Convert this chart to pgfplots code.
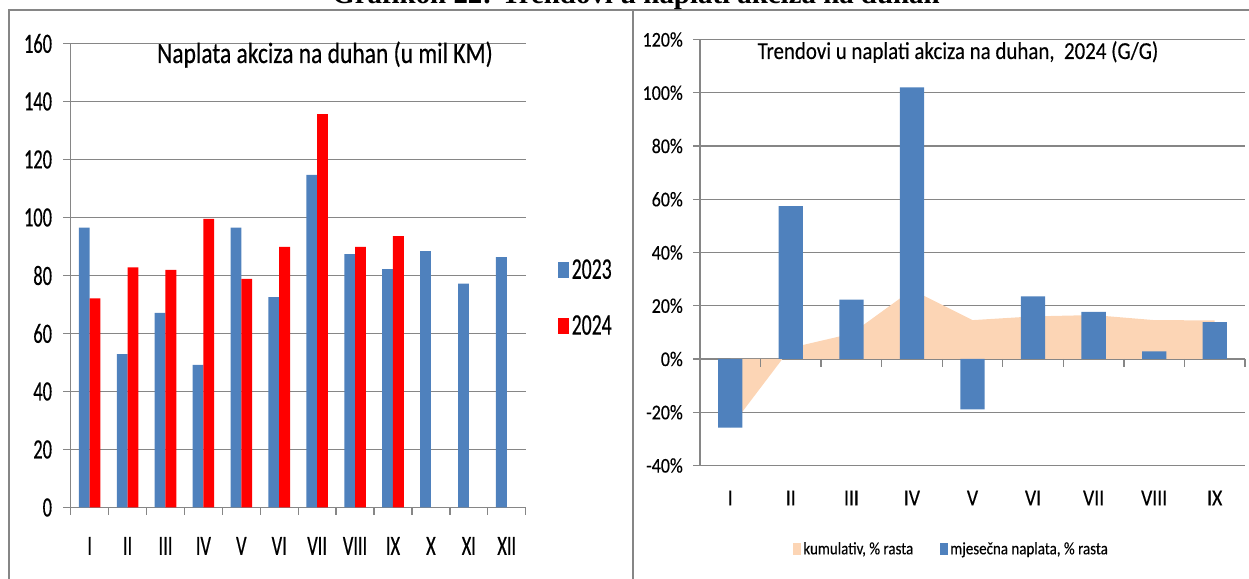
\documentclass[border=0pt]{standalone}
\usepackage{pgfplots}
\pgfplotsset{compat=1.18}
\usepackage{fontspec}
\setmainfont{Carlito}
\newfontfamily\LT[FakeStretch=0.66,FakeBold=0.4]{Carlito}
\newfontfamily\LH[FakeStretch=0.8,FakeBold=0.4]{Carlito}
\newfontfamily\RT[FakeStretch=0.86,FakeBold=0.3]{Carlito}
\newfontfamily\SB{Liberation Serif}
\definecolor{gridgray}{HTML}{868686}
\definecolor{c23}{HTML}{4F81BD}
\definecolor{c24}{HTML}{FF0000}
\definecolor{peach}{HTML}{FCD5B5}
\begin{document}
\begin{tikzpicture}[x=1bp,y=1bp]
% panel frames
\draw[gridgray, line width=2bp] (9,-10) -- (9,569) -- (633,569) -- (633,-10);
\draw[gridgray, line width=2bp] (633,569) -- (1260,569);
\node[anchor=base, font=\SB\bfseries\fontsize{29}{29}\selectfont] at (636,575.5) {Grafikon 22: Trendovi u naplati akciza na duhan};

% ---------- left chart ----------
\begin{axis}[
  at={(70.7bp,71.5bp)}, anchor=south west, scale only axis,
  width=455bp, height=464bp,
  xmin=-0.5, xmax=11.5, ymin=0, ymax=160,
  ybar=0pt, bar width=10.8bp,
  axis x line*=bottom, axis y line*=left,
  axis line style={gridgray, line width=1.3bp, -},
  ytick={0,20,...,160},
  xtick={-0.5,0.5,...,11.5}, xticklabels={},
  extra x ticks={0,...,11},
  extra x tick labels={I,II,III,IV,V,VI,VII,VIII,IX,X,XI,XII},
  extra x tick style={major tick length=0pt},
  tick align=outside, major tick length=7.5bp,
  tick style={gridgray, line width=1.3bp},
  ymajorgrids, major grid style={gridgray, line width=1.3bp},
  /pgf/number format/assume math mode=true,
  yticklabel style={font=\LT\fontsize{28}{28}\selectfont, anchor=east, inner sep=0pt, xshift=-11bp},
  xticklabel style={font=\LT\fontsize{28}{28}\selectfont, anchor=center, inner sep=0pt, yshift=-38.5bp},
  legend style={at={(1.071,0.452)}, anchor=west, draw=none, fill=none,
    font=\LT\fontsize{30}{30}\selectfont, row sep=30bp, inner sep=0pt,
    nodes={inner sep=2.5bp}},
  legend cell align=left,
  clip=false,
]
\addplot[fill=c23, draw=none,
  legend image code/.code={\fill[c23] (0bp,-8bp) rectangle (11bp,8bp);}]
  coordinates {(0,96.5) (1,52.9) (2,67.1) (3,49.2) (4,96.5) (5,72.5) (6,114.7) (7,87.4) (8,82.2) (9,88.4) (10,77.2) (11,86.3)};
\addplot[fill=c24, draw=none,
  legend image code/.code={\fill[c24] (0bp,-8bp) rectangle (11bp,8bp);}]
  coordinates {(0,72.1) (1,82.8) (2,81.9) (3,99.5) (4,78.8) (5,89.9) (6,135.6) (7,89.9) (8,93.6)};
\legend{2023,2024}
\end{axis}
\node[anchor=base, font=\LH\fontsize{29.5}{29.5}\selectfont] at (325,516) {Naplata akciza na duhan (u mil KM)};

% ---------- right chart ----------
\begin{axis}[
  at={(700bp,113.5bp)}, anchor=south west, scale only axis,
  width=545bp, height=426bp,
  xmin=-0.5, xmax=8.5, ymin=-40, ymax=120,
  axis x line*=bottom, axis y line*=left,
  axis line style={gridgray, line width=1.3bp, -},
  ytick={-40,-20,...,120},
  yticklabel={\pgfmathprintnumber{\tick}\%},
  xtick=\empty,
  extra x ticks={0,...,8},
  extra x tick labels={I,II,III,IV,V,VI,VII,VIII,IX},
  extra x tick style={major tick length=0pt},
  tick align=outside, major tick length=7bp,
  tick style={gridgray, line width=1.3bp},
  ymajorgrids, major grid style={gridgray, line width=1.3bp},
  /pgf/number format/assume math mode=true,
  yticklabel style={font=\RT\fontsize{21}{21}\selectfont, anchor=east, inner sep=0pt, xshift=-10bp},
  xticklabel style={font=\RT\fontsize{23}{23}\selectfont, anchor=center, inner sep=0pt, yshift=-32.5bp},
  legend columns=2,
  legend style={at={(0.171,-0.196)}, anchor=west, draw=none, fill=none,
    font=\RT\fontsize{17.5}{17.5}\selectfont, inner sep=0pt,
    nodes={inner sep=2bp},
    /tikz/every even column/.append style={column sep=25bp}},
  legend cell align=left,
  clip=false,
]
\addplot[fill=peach, draw=none,
  legend image code/.code={\fill[peach] (0bp,-6bp) rectangle (8bp,6bp);}]
  coordinates {(0,-25.8) (1,4.2) (2,9.5) (3,26.0) (4,14.6) (5,16.0) (6,16.5) (7,14.6) (8,14.5)} \closedcycle;
\addplot[ybar, bar width=24.3bp, fill=c23, draw=none,
  legend image code/.code={\fill[c23] (0bp,-6bp) rectangle (8bp,6bp);}]
  coordinates {(0,-25.8) (1,57.4) (2,22.3) (3,102.0) (4,-18.9) (5,23.5) (6,17.7) (7,2.9) (8,13.8)};
\pgfplotsinvokeforeach{0.5,1.5,2.5,3.5,4.5,5.5,6.5,7.5,8.5}{
  \draw[gridgray, line width=1.3bp] (axis cs:#1,0) -- ([yshift=-8bp]axis cs:#1,0);
}
\legend{{kumulativ, \% rasta},{mjesečna naplata, \% rasta}}
\end{axis}
\node[anchor=base, font=\RT\fontsize{24.4}{24.4}\selectfont] at (958,520) {Trendovi u naplati akciza na duhan,\ \ 2024 (G/G)};

\pgfresetboundingbox
\useasboundingbox (0,0) rectangle (1249,579);
\end{tikzpicture}
\end{document}
